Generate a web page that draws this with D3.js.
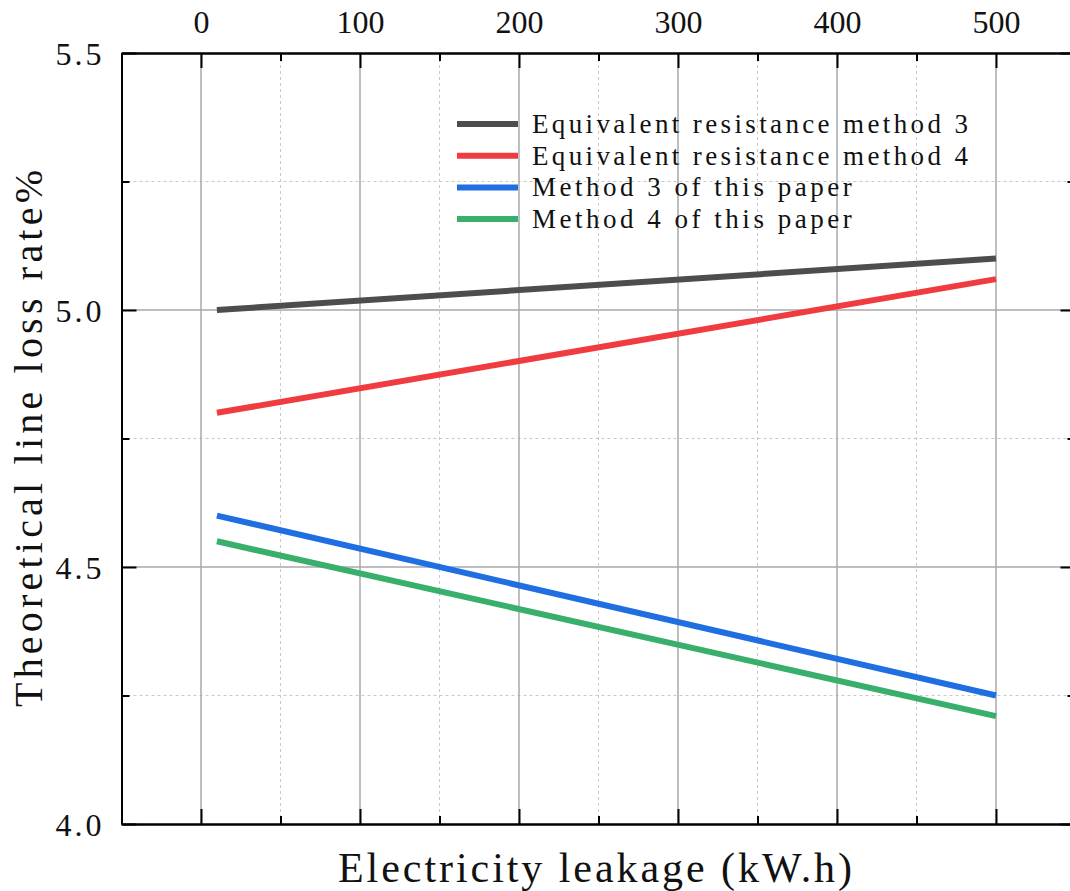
<!DOCTYPE html>
<html>
<head>
<meta charset="utf-8">
<script src="https://cdn.jsdelivr.net/npm/d3@7"></script>
<style>
  body { margin: 0; background: #fff; }
  svg { display: block; }
  text { font-family: "Liberation Serif", "DejaVu Serif", serif; fill: #111; }
</style>
</head>
<body>
<svg id="chart" width="1070" height="891"></svg>
<script>
// data
var leakage   = [10, 500];                 // kW.h
var eqRes3    = [5.00, 5.10];
var eqRes4    = [4.80, 5.06];
var paper3    = [4.60, 4.25];
var paper4    = [4.55, 4.21];
var xMajor    = [0, 100, 200, 300, 400, 500];
var xMinor    = [-50, 50, 150, 250, 350, 450, 550];
var yMajor    = [4.0, 4.5, 5.0, 5.5];
var yMinor    = [4.25, 4.75, 5.25];
var seriesNames  = ["Equivalent resistance method 3", "Equivalent resistance method 4",
                    "Method 3 of this paper", "Method 4 of this paper"];
var seriesColors = ["#4d4d4d", "#f03c40", "#1f6fe2", "#38af6b"];

var svg = d3.select('#chart'),
    pLeft = 121.5, pTop = 53, pRight = 1075.5, pBottom = 824;

var x = d3.scaleLinear().domain([-50, 550]).range([pLeft, pRight]);
var y = d3.scaleLinear().domain([4.0, 5.5]).range([pBottom, pTop]);

// grid
var grid = svg.append('g');
grid.selectAll('.vmin').data(xMinor.filter(function (d) { return d > -50 && d < 550; }))
  .enter().append('line')
  .attr('x1', x).attr('x2', x).attr('y1', pTop).attr('y2', pBottom)
  .attr('stroke', '#c8c8c8').attr('stroke-width', 1).attr('stroke-dasharray', '3,3');
grid.selectAll('.hmin').data(yMinor).enter().append('line')
  .attr('x1', pLeft).attr('x2', pRight).attr('y1', y).attr('y2', y)
  .attr('stroke', '#c8c8c8').attr('stroke-width', 1).attr('stroke-dasharray', '3,3');
grid.selectAll('.vmaj').data(xMajor).enter().append('line')
  .attr('x1', x).attr('x2', x).attr('y1', pTop).attr('y2', pBottom)
  .attr('stroke', '#a8a8a8').attr('stroke-width', 1.5);
grid.selectAll('.hmaj').data([4.5, 5.0]).enter().append('line')
  .attr('x1', pLeft).attr('x2', pRight).attr('y1', y).attr('y2', y)
  .attr('stroke', '#a8a8a8').attr('stroke-width', 1.5);

// series
var series = [eqRes3, eqRes4, paper3, paper4];
var line = d3.line()
  .x(function (d) { return x(d[0]); })
  .y(function (d) { return y(d[1]); });

series.forEach(function (vals, i) {
  svg.append('path')
    .datum(d3.zip(leakage, vals))
    .attr('d', line)
    .attr('fill', 'none')
    .attr('stroke', seriesColors[i])
    .attr('stroke-width', 6);
});

// axes
function styleAxis(g) {
  g.selectAll('path, line').attr('stroke', '#000').attr('stroke-width', 2);
  g.selectAll('text').attr('font-family', '"Liberation Serif", serif')
    .attr('font-size', 32).attr('fill', '#111');
}

svg.append('g').attr('transform', 'translate(0,' + pTop + ')')
  .call(d3.axisTop(x).tickValues(xMajor).tickSizeInner(-15).tickSizeOuter(0).tickPadding(20))
  .call(styleAxis);
svg.append('g').attr('transform', 'translate(0,' + pTop + ')')
  .call(d3.axisTop(x).tickValues(xMinor).tickSizeInner(-8).tickSizeOuter(0).tickFormat(''))
  .call(styleAxis);
svg.append('g').attr('transform', 'translate(0,' + pBottom + ')')
  .call(d3.axisBottom(x).tickValues(xMajor).tickSizeInner(-15).tickSizeOuter(0).tickFormat(''))
  .call(styleAxis);
svg.append('g').attr('transform', 'translate(0,' + pBottom + ')')
  .call(d3.axisBottom(x).tickValues(xMinor).tickSizeInner(-8).tickSizeOuter(0).tickFormat(''))
  .call(styleAxis);

svg.append('g').attr('transform', 'translate(' + pLeft + ',0)')
  .call(d3.axisLeft(y).tickValues(yMajor).tickSizeInner(-15).tickSizeOuter(0)
    .tickPadding(17).tickFormat(d3.format('.1f')))
  .call(styleAxis)
  .selectAll('text').attr('letter-spacing', 3).attr('dy', '0.36em');
svg.append('g').attr('transform', 'translate(' + pLeft + ',0)')
  .call(d3.axisLeft(y).tickValues(yMinor).tickSizeInner(-8).tickSizeOuter(0).tickFormat(''))
  .call(styleAxis);
svg.append('g').attr('transform', 'translate(' + pRight + ',0)')
  .call(d3.axisRight(y).tickValues(yMajor).tickSizeInner(-15).tickSizeOuter(0).tickFormat(''))
  .call(styleAxis);
svg.append('g').attr('transform', 'translate(' + pRight + ',0)')
  .call(d3.axisRight(y).tickValues(yMinor).tickSizeInner(-8).tickSizeOuter(0).tickFormat(''))
  .call(styleAxis);

// axis titles
svg.append('text')
  .attr('x', 595).attr('y', 882)
  .attr('text-anchor', 'middle')
  .attr('font-size', 42)
  .attr('textLength', 514).attr('lengthAdjust', 'spacing')
  .text('Electricity leakage (kW.h)');

svg.append('text')
  .attr('transform', 'translate(42,' + ((pTop + pBottom) / 2) + ') rotate(-90)')
  .attr('text-anchor', 'middle')
  .attr('font-size', 40)
  .attr('textLength', 537).attr('lengthAdjust', 'spacing')
  .text('Theoretical line loss rate%');

// legend
var legend = svg.append('g').attr('transform', 'translate(457,124)');
seriesNames.forEach(function (name, i) {
  var row = legend.append('g').attr('transform', 'translate(0,' + (i * 31.7) + ')');
  row.append('line')
    .attr('x1', 0).attr('x2', 61).attr('y1', 0).attr('y2', 0)
    .attr('stroke', seriesColors[i]).attr('stroke-width', 6);
  row.append('text')
    .attr('x', 75).attr('y', 9)
    .attr('font-size', 27)
    .attr('textLength', name.length * 14.53).attr('lengthAdjust', 'spacing')
    .text(name);
});
</script>
</body>
</html>
